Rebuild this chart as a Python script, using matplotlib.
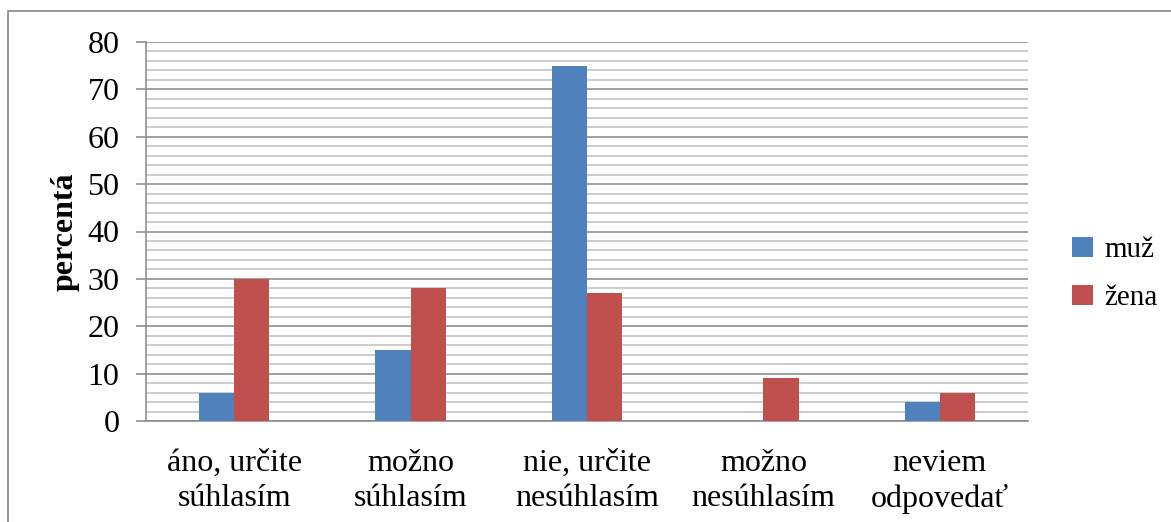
import numpy as np
from matplotlib import pyplot as plt
from matplotlib.patches import Rectangle

categories = ['áno, určite\nsúhlasím', 'možno\nsúhlasím', 'nie, určite\nnesúhlasím',
              'možno\nnesúhlasím', 'neviem\nodpovedať']
muz = [6, 15, 75, 0, 4]
zena = [30, 28, 27, 9, 6]
series_names = ['muž', 'žena']

plt.rcParams['font.family'] = ['Liberation Serif', 'DejaVu Serif']

fig = plt.figure(figsize=(11.71, 5.22), dpi=100)
ax = fig.add_axes([146/1171, 1 - 421/522, (1028-146)/1171, (421-42)/522])

x = np.arange(len(categories))
w = 0.2
ax.bar(x - w/2, muz, w, color='#4F81BD', label=series_names[0], zorder=3)
ax.bar(x + w/2, zena, w, color='#C0504D', label=series_names[1], zorder=3)

ax.set_xlim(-0.5, len(categories) - 0.5)
ax.set_ylim(0, 80)
ax.set_yticks(np.arange(0, 81, 10))
ax.set_yticks(np.arange(0, 81, 2), minor=True)
ax.grid(axis='y', which='major', color='#868686', linewidth=1.1, zorder=0)
ax.grid(axis='y', which='minor', color='#C0C0C0', linewidth=1.1, zorder=0)
ax.set_axisbelow(True)

for s in ['top', 'right']:
    ax.spines[s].set_visible(False)
for s in ['left', 'bottom']:
    ax.spines[s].set_color('#868686')
    ax.spines[s].set_linewidth(1.1)

ax.set_xticks(x)
ax.set_xticklabels(categories, fontsize=23, linespacing=1.28)
ax.tick_params(axis='x', length=0, pad=20)
ax.tick_params(axis='y', which='major', length=7, color='#868686', width=1.1, labelsize=23, pad=12)
ax.tick_params(axis='y', which='minor', length=0)

ax.set_ylabel('percentá', fontsize=23, fontweight='bold', labelpad=6)

fig.legend(loc='center left', bbox_to_anchor=(1046/1171, 1 - 274/522), frameon=False,
           fontsize=21, handlelength=0.7, handleheight=0.7, handletextpad=0.4,
           labelspacing=0.75)

fig.patches.append(Rectangle((8/1171, -0.1), 1.2, 1 - 11/522 + 0.1, transform=fig.transFigure,
                             fill=False, edgecolor='#868686', linewidth=1.2))

fig.savefig('out.png', dpi=100)
